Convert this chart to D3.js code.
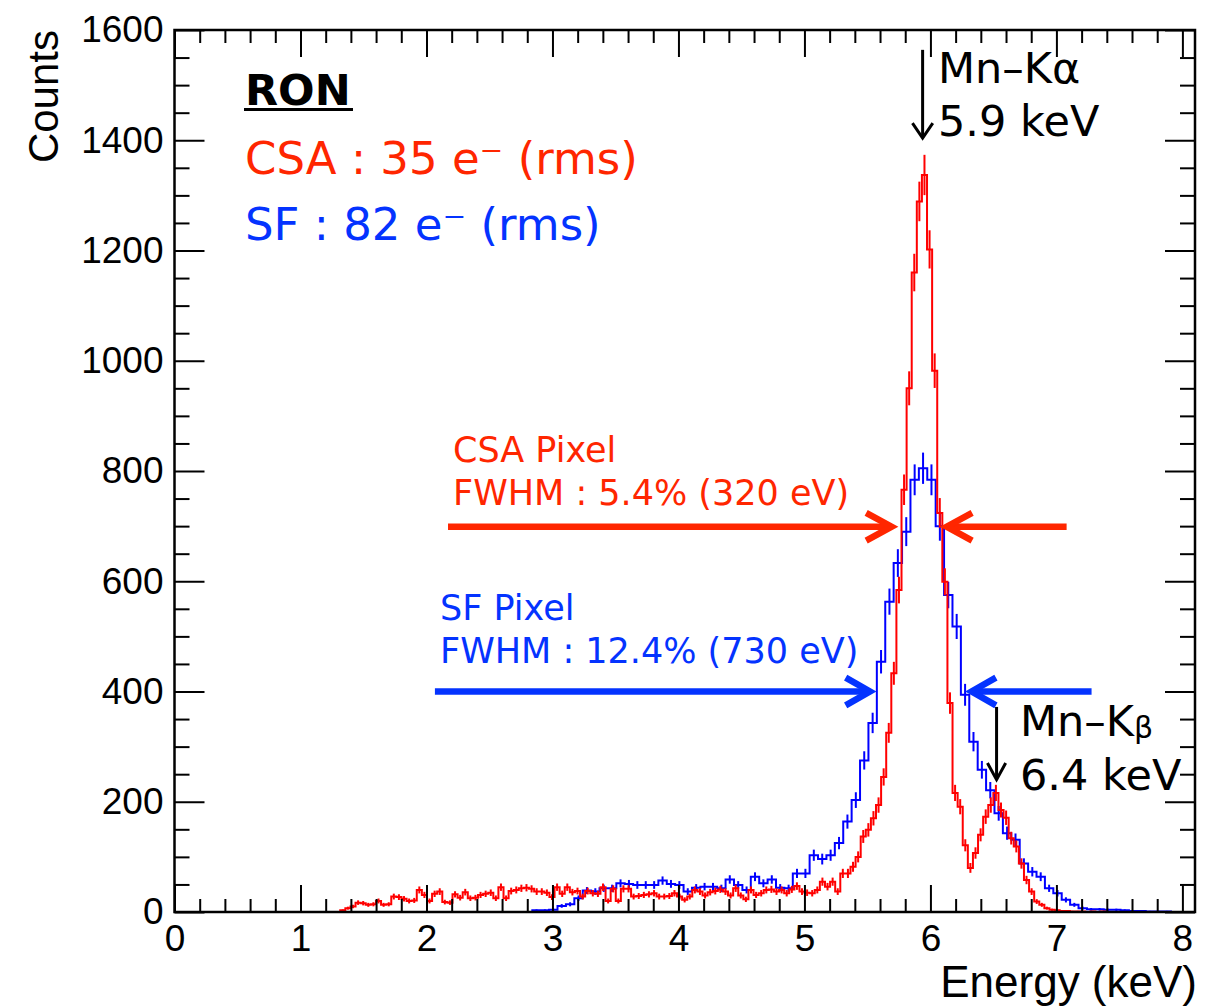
<!DOCTYPE html>
<html>
<head>
<meta charset="utf-8">
<script src="https://cdn.jsdelivr.net/npm/d3@7"></script>
<style>
body { margin: 0; background: #fff; }
</style>
</head>
<body>
<div id="chart"></div>
<script>
var width = 1224, height = 1006;

// axis ranges and ticks
var xDomain = [0, 8.1];
var yDomain = [0, 1600];
var xMajor = [0, 1, 2, 3, 4, 5, 6, 7, 8];
var yMajor = [0, 200, 400, 600, 800, 1000, 1200, 1400, 1600];

// CSA pixel histogram (red), counts per bin
var redStart = 1.3155, redWidth = 0.0405;
var redCounts = [3, 7, 10, 17, 16, 13, 14, 20, 13, 14,
	28, 27, 24, 20, 21, 40, 31, 20, 33, 37,
	18, 17, 32, 26, 36, 25, 26, 31, 33, 35,
	25, 45, 25, 38, 40, 43, 44, 42, 37, 37,
	35, 27, 45, 33, 45, 36, 38, 28, 38, 34,
	33, 45, 20, 42, 20, 42, 42, 28, 29, 31,
	32, 34, 28, 28, 29, 34, 28, 22, 28, 40,
	37, 30, 36, 38, 41, 37, 30, 43, 30, 23,
	40, 31, 34, 40, 41, 37, 40, 34, 41, 47,
	37, 35, 34, 40, 55, 46, 55, 37, 70, 70,
	82, 100, 137, 149, 170, 194, 245, 325, 433, 584,
	766, 950, 1160, 1289, 1337, 1202, 982, 724, 599, 379,
	216, 191, 121, 80, 107, 140, 173, 194, 216, 185,
	171, 134, 119, 88, 58, 37, 19, 13, 7, 4,
	3, 2, 2, 1, 1, 1, 0, 1, 0, 1];

// SF pixel histogram (blue), counts per bin
var blueStart = 2.84, blueWidth = 0.0667;
var blueCounts = [3, 3, 4, 11, 14, 25, 39, 37, 43, 43,
	52, 51, 49, 49, 49, 57, 51, 49, 37, 44,
	46, 46, 43, 59, 49, 40, 64, 52, 59, 44,
	43, 70, 70, 103, 96, 103, 125, 164, 203, 275,
	343, 454, 563, 633, 690, 784, 805, 784, 700, 575,
	518, 394, 309, 258, 221, 179, 143, 131, 88, 73,
	64, 43, 34, 22, 13, 7, 5, 5, 4, 4,
	3, 2, 2, 1, 1, 1];

var svg = d3.select("#chart")
	.append("svg")
	.attr("width", width)
	.attr("height", height)
	.style("font-family", "'Liberation Sans', Arial, sans-serif");

var x = d3.scaleLinear().domain(xDomain).range([174.5, 1195]);
var y = d3.scaleLinear().domain(yDomain).range([912, 30]);

var toBins = (counts, start, w) => counts.map((v, i) => ({x0: start + i * w, x1: start + (i + 1) * w, v: v}));

var stepLine = d3.line().x(d => x(d[0])).y(d => y(d[1]));

function drawHist(bins, color, fromZero) {
	var pts = [];
	if (fromZero) pts.push([xDomain[0], 0]);
	pts.push([bins[0].x0, 0]);
	bins.forEach(b => { pts.push([b.x0, b.v]); pts.push([b.x1, b.v]); });
	pts.push([bins[bins.length - 1].x1, 0]);
	pts.push([xDomain[1], 0]);

	var g = svg.append("g");
	g.append("path")
		.attr("d", stepLine(pts))
		.attr("fill", "none")
		.attr("stroke", color)
		.attr("stroke-width", 2);

	g.selectAll("line")
		.data(bins.filter(b => b.v > 0))
		.join("line")
		.attr("x1", d => x((d.x0 + d.x1) / 2))
		.attr("x2", d => x((d.x0 + d.x1) / 2))
		.attr("y1", d => y(d.v - Math.sqrt(d.v)))
		.attr("y2", d => y(d.v + Math.sqrt(d.v)))
		.attr("stroke", color)
		.attr("stroke-width", 2);
}

drawHist(toBins(blueCounts, blueStart, blueWidth), "#0000ff", false);
drawHist(toBins(redCounts, redStart, redWidth), "#ff0000", true);

// frame
svg.append("rect")
	.attr("x", x(xDomain[0]))
	.attr("y", y(yDomain[1]))
	.attr("width", x(xDomain[1]) - x(xDomain[0]))
	.attr("height", y(yDomain[0]) - y(yDomain[1]))
	.attr("fill", "none")
	.attr("stroke", "#000")
	.attr("stroke-width", 2.5);

var xMinor = d3.range(0, 8.05, 0.2).filter(v => Math.abs(v - Math.round(v)) > 1e-6);
var yMinor = d3.range(0, 1601, 50).filter(v => v % 200 !== 0);

function styleAxis(g) {
	g.selectAll(".domain").remove();
	g.selectAll(".tick line").attr("stroke", "#000").attr("stroke-width", 2);
	g.selectAll("text").attr("fill", "#000").style("font-size", "37px");
}

// bottom
svg.append("g").attr("transform", `translate(0,${y(0)})`)
	.call(d3.axisBottom(x).tickValues(xMajor).tickSizeInner(-27).tickSizeOuter(0).tickPadding(13).tickFormat(d3.format("d")))
	.call(styleAxis);
svg.append("g").attr("transform", `translate(0,${y(0)})`)
	.call(d3.axisBottom(x).tickValues(xMinor).tickSizeInner(-13).tickSizeOuter(0).tickFormat(""))
	.call(styleAxis);
// top
svg.append("g").attr("transform", `translate(0,${y(1600)})`)
	.call(d3.axisTop(x).tickValues(xMajor).tickSizeInner(-27).tickSizeOuter(0).tickFormat(""))
	.call(styleAxis);
svg.append("g").attr("transform", `translate(0,${y(1600)})`)
	.call(d3.axisTop(x).tickValues(xMinor).tickSizeInner(-13).tickSizeOuter(0).tickFormat(""))
	.call(styleAxis);
// left
svg.append("g").attr("transform", `translate(${x(0)},0)`)
	.call(d3.axisLeft(y).tickValues(yMajor).tickSizeInner(-30).tickSizeOuter(0).tickPadding(11).tickFormat(d3.format("d")))
	.call(styleAxis);
svg.append("g").attr("transform", `translate(${x(0)},0)`)
	.call(d3.axisLeft(y).tickValues(yMinor).tickSizeInner(-15).tickSizeOuter(0).tickFormat(""))
	.call(styleAxis);
// right
svg.append("g").attr("transform", `translate(${x(8.1)},0)`)
	.call(d3.axisRight(y).tickValues(yMajor).tickSizeInner(-30).tickSizeOuter(0).tickFormat(""))
	.call(styleAxis);
svg.append("g").attr("transform", `translate(${x(8.1)},0)`)
	.call(d3.axisRight(y).tickValues(yMinor).tickSizeInner(-15).tickSizeOuter(0).tickFormat(""))
	.call(styleAxis);

// axis titles
svg.append("text")
	.attr("transform", "translate(58,30) rotate(-90)")
	.attr("text-anchor", "end")
	.style("font-size", "42px")
	.text("Counts");

svg.append("text")
	.attr("x", 1197)
	.attr("y", 997)
	.attr("text-anchor", "end")
	.style("font-size", "44px")
	.text("Energy (keV)");

// annotations
var ann = svg.append("g").style("font-family", "'DejaVu Sans', Verdana, sans-serif");
var annRed = "#ff2600", annBlue = "#0433ff";

ann.append("text").attr("x", 245).attr("y", 105)
	.style("font-size", "43px").style("font-weight", "bold")
	.text("RON");
ann.append("line").attr("x1", 244).attr("x2", 353).attr("y1", 109.5).attr("y2", 109.5)
	.attr("stroke", "#000").attr("stroke-width", 3);

ann.append("text").attr("x", 245).attr("y", 174)
	.attr("fill", annRed).style("font-size", "45px")
	.text("CSA : 35 e\u207B (rms)");
ann.append("text").attr("x", 245).attr("y", 240)
	.attr("fill", annBlue).style("font-size", "45px")
	.text("SF : 82 e\u207B (rms)");

ann.append("text").attr("x", 453).attr("y", 462)
	.attr("fill", annRed).style("font-size", "35px").text("CSA Pixel");
ann.append("text").attr("x", 453).attr("y", 505)
	.attr("fill", annRed).style("font-size", "35px").text("FWHM : 5.4% (320 eV)");
ann.append("text").attr("x", 440).attr("y", 620)
	.attr("fill", annBlue).style("font-size", "35px").text("SF Pixel");
ann.append("text").attr("x", 440).attr("y", 663)
	.attr("fill", annBlue).style("font-size", "35px").text("FWHM : 12.4% (730 eV)");

ann.append("text").attr("x", 938).attr("y", 83)
	.style("font-size", "43px").text("Mn\u2013K\u03B1");
ann.append("text").attr("x", 938).attr("y", 136)
	.style("font-size", "43px").text("5.9 keV");

var kb = ann.append("text").attr("x", 1020).attr("y", 736)
	.style("font-size", "43px");
kb.append("tspan").text("Mn\u2013K");
kb.append("tspan").attr("dy", 2).style("font-size", "30px").text("\u03B2");
ann.append("text").attr("x", 1020).attr("y", 790)
	.style("font-size", "43px").text("6.4 keV");

// arrows, placed in data coordinates
function arrow(e0, e1, c0, c1, color, sw, head) {
	var x0 = x(e0), x1 = x(e1), y0 = y(c0), y1 = y(c1);
	var ang = Math.atan2(y1 - y0, x1 - x0);
	var a1 = ang + Math.PI - head[1], a2 = ang + Math.PI + head[1];
	ann.append("line").attr("x1", x0).attr("y1", y0).attr("x2", x1).attr("y2", y1)
		.attr("stroke", color).attr("stroke-width", sw);
	ann.append("path")
		.attr("d", `M${x1 + head[0] * Math.cos(a1)},${y1 + head[0] * Math.sin(a1)}L${x1},${y1}L${x1 + head[0] * Math.cos(a2)},${y1 + head[0] * Math.sin(a2)}`)
		.attr("fill", "none").attr("stroke", color).attr("stroke-width", sw)
		.attr("stroke-linecap", "butt").attr("stroke-linejoin", "miter");
}

arrow(2.171, 5.692, 699, 699, annRed, 6.5, [29, 0.5]);
arrow(7.081, 6.129, 699, 699, annRed, 6.5, [29, 0.5]);
arrow(2.067, 5.52, 400, 400, annBlue, 6.5, [28, 0.52]);
arrow(7.279, 6.327, 400, 400, annBlue, 6.5, [28, 0.52]);
arrow(5.938, 5.938, 1564, 1404, "#000", 3, [18, 0.6]);
arrow(6.525, 6.525, 372, 240, "#000", 3, [19, 0.5]);
</script>
</body>
</html>
